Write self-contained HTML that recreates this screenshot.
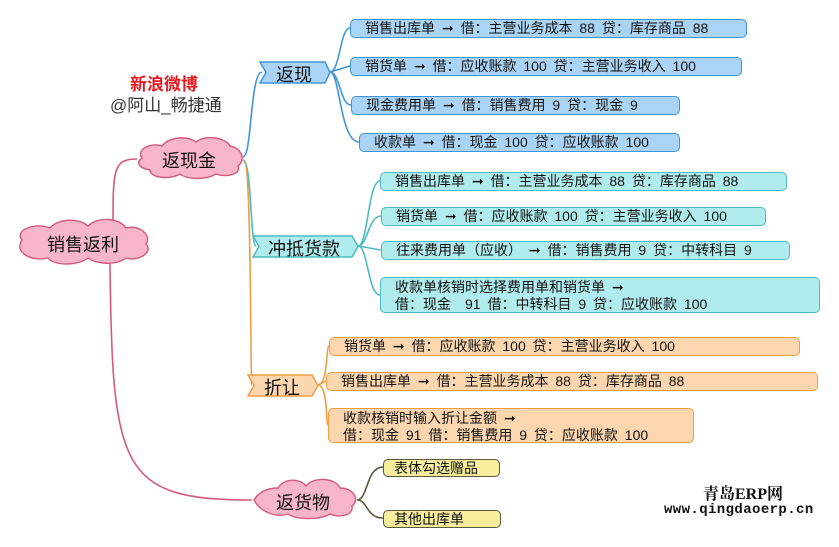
<!DOCTYPE html>
<html><head><meta charset="utf-8"><style>
body{margin:0;width:839px;height:547px;background:#fff;position:relative;overflow:hidden;font-family:"Liberation Sans","Noto Sans CJK SC",sans-serif;}
.i{position:absolute;box-sizing:border-box;border-radius:5px;font-size:14px;line-height:17px;padding:0 0 0 14px;white-space:nowrap;color:#111;word-spacing:3px;}
.b{background:#aad4f5;border:1.5px solid #3f95d8;}
.c{background:#b0ecee;border:1.5px solid #4cbcc4;}
.o{background:#fbd6ae;border:1.5px solid #ef9e44;}
.y{background:#f6ee9c;border:1.5px solid #5a5a3a;padding-left:10px;}
.t{position:absolute;font-size:18px;color:#111;white-space:nowrap;}
</style></head><body>
<svg width="839" height="547" style="position:absolute;left:0;top:0">
<g fill="none" stroke-width="1.6">
<path d="M113 226 C113 170,113 159,137 159" stroke="#d45a7e"/>
<path d="M110 262 C112 470,120 500,252 500" stroke="#d45a7e"/>
<path d="M243 157 C252 157,250 72,262 72" stroke="#3f95d8"/>
<path d="M243 160 C252 160,250 246,256 246" stroke="#4cbcc4"/>
<path d="M244 162 C252 162,250 385,252 385" stroke="#ef9e44"/>
<path d="M330 72 C340 72,340 28,350 28 M330 72 L350 66 M330 72 C340 72,340 105,351 105 M330 72 C340 72,340 142,359 142" stroke="#3f95d8"/>
<path d="M358 246 C368 246,368 181,380 181 M358 246 C368 246,368 216,381 216 M358 246 L381 250 M358 246 C368 246,368 295,380 295" stroke="#4cbcc4"/>
<path d="M318 385 C328 385,326 346,329 346 M318 385 L326 381 M318 385 C328 385,326 425,328 425" stroke="#ef9e44"/>
<path d="M357 500 C368 500,366 467,383 467 M357 500 C368 500,366 518,383 518" stroke="#5a5a3a"/>
</g>
<g stroke="#d45a7e" stroke-width="1.4" fill="#f6b5c8">
<path d="M22 240 C14 230,35 222,50 228 C58 218,80 218,88 226 C98 216,120 218,126 228 C140 224,152 236,146 244 C154 252,138 262,126 258 C116 266,96 264,88 258 C78 266,54 266,48 258 C30 262,14 252,22 240Z"/>
<path d="M142 158 C136 150,150 142,162 146 C170 136,188 136,196 142 C206 134,226 138,230 146 C242 148,246 160,238 166 C242 174,226 178,216 174 C206 180,188 180,180 174 C170 180,150 178,150 170 C138 168,136 162,142 158Z"/>
<path d="M254 500 C260 490,270 488,278 488 C284 478,300 478,306 486 C314 476,336 478,340 488 C354 488,360 500,352 506 C354 516,338 518,330 514 C320 520,296 520,288 514 C276 518,260 512,254 500Z"/>
</g>
<g stroke-width="1.5">
<path d="M260 62 L325 62 L330 72.5 L325 83 L260 83 L266 72.5Z" fill="#aad4f5" stroke="#3f95d8"/>
<path d="M253 236 L352 236 L358 246.5 L352 257 L253 257 L259 246.5Z" fill="#b0ecee" stroke="#4cbcc4"/>
<path d="M248 375 L312 375 L318 385.5 L312 396 L248 396 L254 385.5Z" fill="#fbd6ae" stroke="#ef9e44"/>
</g>
</svg>
<div class="t" style="left:47px;top:231px">销售返利</div>
<div class="t" style="left:162px;top:147px">返现金</div>
<div class="t" style="left:276px;top:489px">返货物</div>
<div class="t" style="left:276px;top:61px">返现</div>
<div class="t" style="left:268px;top:235px">冲抵货款</div>
<div class="t" style="left:264px;top:374px">折让</div>
<div class="t" style="left:130px;top:70px;color:#e8181e;font-weight:bold;font-size:17px">新浪微博</div>
<div class="t" style="left:110px;top:91px;color:#333;font-size:17px">@阿山_畅捷通</div>
<div class="t" style="left:703px;top:481px;font-size:16px;font-weight:bold;font-family:'Liberation Serif','Noto Serif CJK SC',serif">青岛ERP网</div>
<div class="t" style="left:664px;top:502px;font-size:14px;font-weight:bold;font-family:'Liberation Mono',monospace;letter-spacing:0.4px">www.qingdaoerp.cn</div>

<div class="i b" style="left:350px;top:19px;width:397px;height:19px">销售出库单 ➞ 借：主营业务成本 88 贷：库存商品 88</div>
<div class="i b" style="left:350px;top:57px;width:392px;height:19px">销货单 ➞ 借：应收账款 100 贷：主营业务收入 100</div>
<div class="i b" style="left:351px;top:96px;width:329px;height:19px">现金费用单 ➞ 借：销售费用 9 贷：现金 9</div>
<div class="i b" style="left:359px;top:133px;width:321px;height:19px">收款单 ➞ 借：现金 100 贷：应收账款 100</div>

<div class="i c" style="left:380px;top:172px;width:407px;height:19px">销售出库单 ➞ 借：主营业务成本 88 贷：库存商品 88</div>
<div class="i c" style="left:381px;top:207px;width:385px;height:19px">销货单 ➞ 借：应收账款 100 贷：主营业务收入 100</div>
<div class="i c" style="left:381px;top:241px;width:409px;height:19px">往来费用单（应收） ➞ 借：销售费用 9 贷：中转科目 9</div>
<div class="i c" style="left:380px;top:277px;width:440px;height:36px;padding-top:1px">收款单核销时选择费用单和销货单 ➞<br>借：现金　91 借：中转科目 9 贷：应收账款 100</div>

<div class="i o" style="left:329px;top:337px;width:471px;height:19px">销货单 ➞ 借：应收账款 100 贷：主营业务收入 100</div>
<div class="i o" style="left:326px;top:372px;width:492px;height:19px">销售出库单 ➞ 借：主营业务成本 88 贷：库存商品 88</div>
<div class="i o" style="left:328px;top:408px;width:366px;height:35px;padding-top:1px">收款核销时输入折让金额 ➞<br>借：现金 91 借：销售费用 9 贷：应收账款 100</div>

<div class="i y" style="left:383px;top:459px;width:117px;height:18px">表体勾选赠品</div>
<div class="i y" style="left:383px;top:510px;width:118px;height:18px">其他出库单</div>
</body></html>
